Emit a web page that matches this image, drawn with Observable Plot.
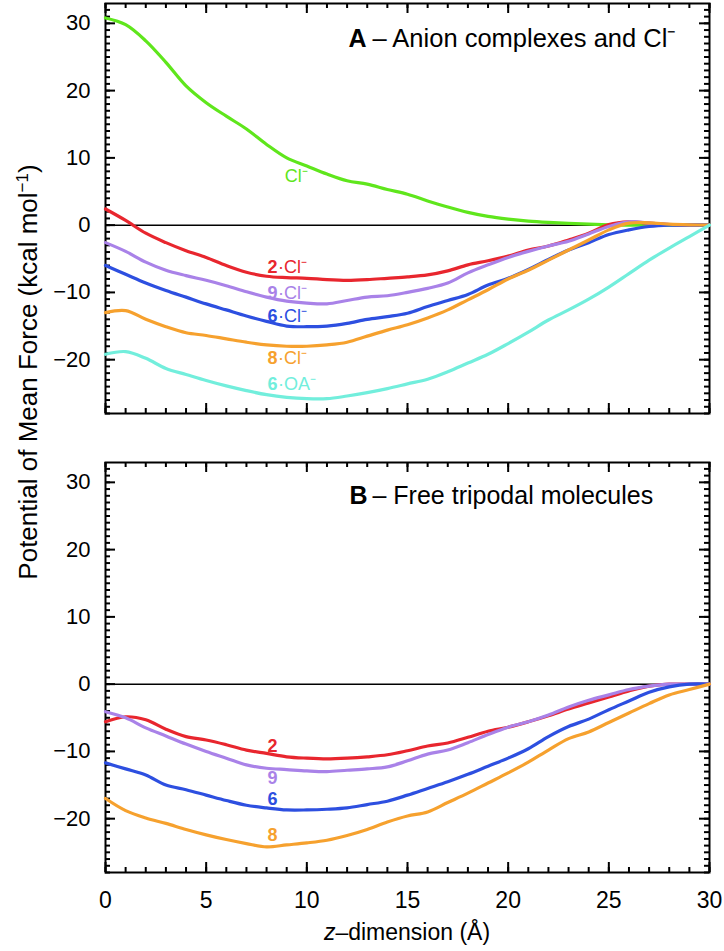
<!DOCTYPE html>
<html><head><meta charset="utf-8">
<script src="https://cdn.jsdelivr.net/npm/d3@7"></script>
<script src="https://cdn.jsdelivr.net/npm/@observablehq/plot@0.6"></script>
<style>
body{margin:0;background:#fff;}
#wrap{position:relative;width:724px;height:951px;font-family:"Liberation Sans",Arial,Helvetica,sans-serif;}
#wrap > svg{position:absolute;left:0;}
</style></head><body><div id="wrap"></div>
<script>
// z-dimension (Å) grid
const z = [0,1,2,3,4,5,6,7,8,9,10,11,12,13,14,15,16,17,18,19,20,21,22,23,24,25,26,27,28,29,30];

// Panel A – Anion complexes and Cl⁻
const A_Cl  = [30.8,29.8,27.4,24.2,20.7,18.2,16.2,14.3,12.0,10.0,8.8,7.6,6.6,6.1,5.3,4.6,3.6,2.7,1.9,1.3,0.9,0.6,0.4,0.25,0.15,0.05,0,0,0,0,0];
const A_2Cl = [2.4,0.7,-1.2,-2.6,-3.8,-4.8,-6.0,-7.0,-7.6,-7.8,-7.9,-8.1,-8.2,-8.1,-7.9,-7.7,-7.4,-6.8,-5.9,-5.3,-4.6,-3.7,-3.1,-2.2,-1.2,0.1,0.5,0.3,0.1,0,0];
const A_9Cl = [-2.6,-3.9,-5.5,-6.7,-7.5,-8.2,-9.0,-9.9,-10.7,-11.3,-11.6,-11.7,-11.2,-10.7,-10.5,-10.0,-9.4,-8.6,-7.1,-5.9,-4.8,-3.9,-3.1,-2.4,-1.3,-0.2,0.5,0.3,0.1,0,0];
const A_6Cl = [-6.0,-7.3,-8.6,-9.7,-10.7,-11.7,-12.6,-13.5,-14.3,-15.0,-15.1,-15.0,-14.6,-14.0,-13.6,-13.1,-12.1,-11.2,-10.3,-8.9,-7.9,-6.6,-5.1,-3.7,-2.6,-1.4,-0.7,-0.2,0,0,0];
const A_8Cl = [-13.0,-12.7,-14.0,-15.1,-16.0,-16.4,-16.9,-17.4,-17.8,-18.0,-18.0,-17.8,-17.4,-16.5,-15.6,-14.8,-13.8,-12.6,-11.1,-9.6,-8.0,-6.7,-5.2,-3.7,-2.2,-0.7,0.3,0.35,0.15,0.05,0];
const A_6OA = [-19.2,-18.8,-19.8,-21.3,-22.2,-23.1,-23.9,-24.6,-25.2,-25.6,-25.8,-25.8,-25.4,-24.9,-24.3,-23.6,-22.9,-21.8,-20.5,-19.2,-17.6,-15.9,-14.1,-12.6,-11.0,-9.2,-7.2,-5.2,-3.4,-1.7,0];

// Panel B – Free tripodal molecules
const B_2 = [-5.6,-4.85,-5.3,-6.7,-7.8,-8.3,-9.0,-9.8,-10.3,-10.8,-11.0,-11.1,-11.0,-10.8,-10.5,-9.9,-9.2,-8.75,-7.9,-7.0,-6.4,-5.6,-4.7,-3.7,-2.8,-1.9,-1.0,-0.3,0,0,0];
const B_9 = [-4.1,-5.0,-6.5,-7.7,-8.9,-10.0,-11.0,-12.0,-12.5,-12.7,-12.9,-13.0,-12.8,-12.6,-12.3,-11.4,-10.4,-9.8,-8.7,-7.5,-6.4,-5.6,-4.6,-3.4,-2.4,-1.6,-0.8,-0.3,0,0,0];
const B_6 = [-11.7,-12.6,-13.5,-15.0,-15.7,-16.5,-17.3,-18.0,-18.4,-18.7,-18.7,-18.6,-18.4,-17.9,-17.4,-16.5,-15.5,-14.5,-13.4,-12.2,-11.0,-9.6,-7.8,-6.3,-5.2,-3.8,-2.5,-1.2,-0.4,0,0];
const B_8 = [-17.0,-18.8,-19.9,-20.7,-21.6,-22.4,-23.1,-23.7,-24.2,-23.9,-23.6,-23.2,-22.5,-21.6,-20.5,-19.6,-19.0,-17.6,-16.2,-14.7,-13.2,-11.6,-9.8,-8.1,-7.1,-5.7,-4.3,-2.9,-1.6,-0.8,0];

// Tick values
const xMajor = [0,5,10,15,20,25,30];
const xMinor = d3.range(0, 31, 1);
const yMajor = [-20,-10,0,10,20,30];
const yMinor = d3.range(-28, 33, 1);

// Series names and colours
const namesA = ["Cl", "2Cl", "9Cl", "6Cl", "8Cl", "6OA"];
const seriesA = [A_Cl, A_2Cl, A_9Cl, A_6Cl, A_8Cl, A_6OA];
const colorsA = ["#5fe61c", "#e8262e", "#a982e8", "#2d4fe0", "#f6a12e", "#72eedc"];
const namesB = ["2", "9", "6", "8"];
const seriesB = [B_2, B_9, B_6, B_8];
const colorsB = ["#e8262e", "#a982e8", "#2d4fe0", "#f6a12e"];

// Curve labels (anchored in data coordinates)
const labClA = [{s:"Cl", t:"Cl⁻", x:8.9, y:7.2}];
const labA = [
  {s:"2Cl", n:"2", t:"·Cl⁻", x:8.05, y:-6.3},
  {s:"9Cl", n:"9", t:"·Cl⁻", x:8.05, y:-10.1},
  {s:"6Cl", n:"6", t:"·Cl⁻", x:8.05, y:-13.5},
  {s:"8Cl", n:"8", t:"·Cl⁻", x:8.05, y:-19.8},
  {s:"6OA", n:"6", t:"·OA⁻", x:8.05, y:-23.7}
];
const labB = [
  {s:"2", n:"2", x:8.05, y:-9.2},
  {s:"9", n:"9", x:8.05, y:-14.0},
  {s:"6", n:"6", x:8.05, y:-17.1},
  {s:"8", n:"8", x:8.05, y:-22.4}
];

const tidy = (names, series) => names.flatMap((n, k) => series[k].map((v, i) => ({s: n, z: z[i], v})));

const FONT = "Liberation Sans, Arial, Helvetica, sans-serif";
const xDomain = [0, 30];
const yDomain = [-28, 32.95];
const FW = 604, FH = 410; // frame size in px (both panels)
const pxX = (xDomain[1] - xDomain[0]) / FW; // data units per pixel
const pxY = (yDomain[1] - yDomain[0]) / FH;

// inward ticks on all four sides, drawn as short rules through the scales
function frameTicks() {
  const sw = 2, s = "black";
  const t = [];
  for (const [vals, len] of [[xMinor, 5], [xMajor, 10]]) {
    t.push(Plot.ruleX(vals, {x: d => d, y1: yDomain[0], y2: yDomain[0] + len * pxY, stroke: s, strokeWidth: sw}));
    t.push(Plot.ruleX(vals, {x: d => d, y1: yDomain[1] - len * pxY, y2: yDomain[1], stroke: s, strokeWidth: sw}));
  }
  for (const [vals, len] of [[yMinor, 5], [yMajor, 10]]) {
    t.push(Plot.ruleY(vals, {y: d => d, x1: xDomain[0], x2: xDomain[0] + len * pxX, stroke: s, strokeWidth: sw}));
    t.push(Plot.ruleY(vals, {y: d => d, x1: xDomain[1] - len * pxX, x2: xDomain[1], stroke: s, strokeWidth: sw}));
  }
  return [
    ...t,
    Plot.axisY({ticks: yMajor, anchor: "left", tickSize: 0, tickPadding: 15, fontSize: 22, label: null}),
    Plot.ruleY([0], {stroke: "black", strokeWidth: 1.5}),
    Plot.frame({stroke: "black", strokeWidth: 2})
  ];
}

// Panel A
const plotA = Plot.plot({
  width: 724, height: 430,
  marginLeft: 105, marginRight: 15, marginTop: 3, marginBottom: 17,
  style: {fontFamily: FONT, fontSize: "22px", background: "transparent"},
  x: {domain: xDomain, axis: null},
  y: {domain: yDomain},
  color: {domain: namesA, range: colorsA},
  marks: [
    ...frameTicks(),
    Plot.line(tidy(namesA, seriesA), {x: "z", y: "v", z: "s", stroke: "s", strokeWidth: 3.2, curve: "catmull-rom"}),
    Plot.text(labA, {x: "x", y: "y", text: "n", fill: "s", fontWeight: "bold", fontSize: 18, textAnchor: "start", lineAnchor: "middle"}),
    Plot.text(labA, {x: "x", y: "y", text: "t", fill: "s", fontSize: 18, textAnchor: "start", lineAnchor: "middle", dx: 10.5}),
    Plot.text(labClA, {x: "x", y: "y", text: "t", fill: "s", fontSize: 18, textAnchor: "start", lineAnchor: "middle"}),
    Plot.text(["A"], {frameAnchor: "top-left", dx: 243, dy: 43, lineAnchor: "bottom", textAnchor: "start", fontWeight: "bold", fontSize: 25}),
    Plot.text(["– Anion complexes and Cl⁻"], {frameAnchor: "top-left", dx: 267, dy: 43, lineAnchor: "bottom", textAnchor: "start", fontSize: 25.5})
  ]
});

// Panel B
const plotB = Plot.plot({
  width: 724, height: 521,
  marginLeft: 105, marginRight: 15, marginTop: 32, marginBottom: 79,
  style: {fontFamily: FONT, fontSize: "22px", background: "transparent"},
  x: {domain: xDomain},
  y: {domain: yDomain},
  color: {domain: namesB, range: colorsB},
  marks: [
    ...frameTicks(),
    Plot.axisX({ticks: xMajor, anchor: "bottom", tickSize: 0, tickPadding: 19, fontSize: 23, label: null}),
    Plot.line(tidy(namesB, seriesB), {x: "z", y: "v", z: "s", stroke: "s", strokeWidth: 3.2, curve: "catmull-rom"}),
    Plot.text(labB, {x: "x", y: "y", text: "n", fill: "s", fontWeight: "bold", fontSize: 18, textAnchor: "start", lineAnchor: "middle"}),
    Plot.text(["B"], {frameAnchor: "top-left", dx: 244, dy: 41, lineAnchor: "bottom", textAnchor: "start", fontWeight: "bold", fontSize: 25}),
    Plot.text(["– Free tripodal molecules"], {frameAnchor: "top-left", dx: 267, dy: 41, lineAnchor: "bottom", textAnchor: "start", fontSize: 25})
  ]
});

const wrap = document.getElementById("wrap");
plotA.style.top = "0px";
plotB.style.top = "430px";
wrap.appendChild(plotA);
wrap.appendChild(plotB);

// Shared axis titles
const NS = "http://www.w3.org/2000/svg";
const ov = document.createElementNS(NS, "svg");
ov.setAttribute("width", 724); ov.setAttribute("height", 951);
ov.style.position = "absolute"; ov.style.left = "0"; ov.style.top = "0"; ov.style.pointerEvents = "none";
ov.setAttribute("font-family", FONT);
const yl = document.createElementNS(NS, "text");
yl.setAttribute("transform", "translate(37,372) rotate(-90)");
yl.setAttribute("text-anchor", "middle");
yl.setAttribute("font-size", "26");
yl.innerHTML = 'Potential of Mean Force (kcal mol<tspan dy="-9" font-size="17">−1</tspan><tspan dy="9">)</tspan>';
ov.appendChild(yl);
const xl = document.createElementNS(NS, "text");
xl.setAttribute("x", 407); xl.setAttribute("y", 940);
xl.setAttribute("text-anchor", "middle");
xl.setAttribute("font-size", "23");
xl.innerHTML = '<tspan font-style="italic">z</tspan>–dimension (Å)';
ov.appendChild(xl);
wrap.appendChild(ov);
</script>
</body></html>
